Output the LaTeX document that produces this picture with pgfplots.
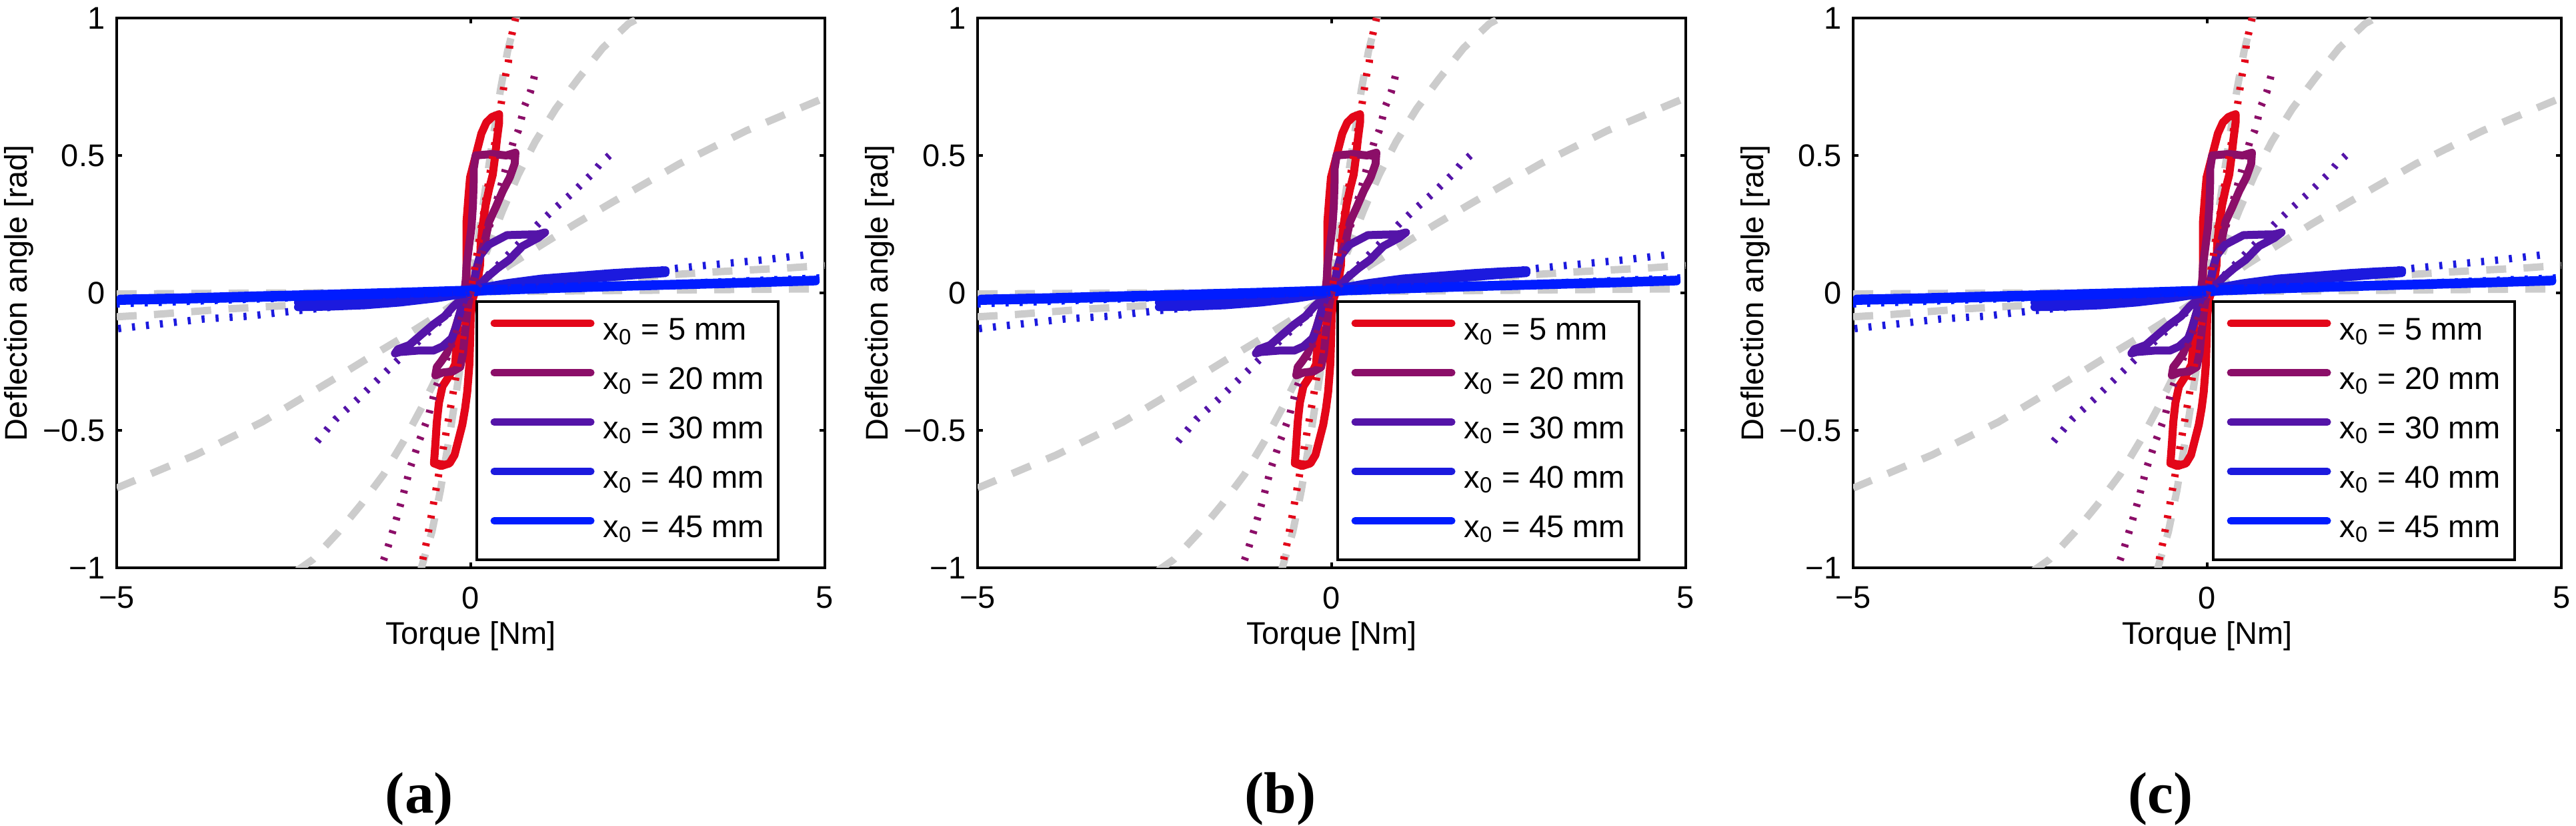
\documentclass[border=0pt]{standalone}
\usepackage{fontspec}
\setmainfont{Liberation Sans}
\newfontfamily\capfont{Liberation Serif}
\usepackage{pgfplots}
\pgfplotsset{compat=1.18}
\definecolor{cred}{RGB}{227,6,25}
\definecolor{cpur}{RGB}{139,14,104}
\definecolor{cvio}{RGB}{84,20,168}
\definecolor{cblu}{RGB}{28,26,222}
\definecolor{cbri}{RGB}{0,28,255}
\definecolor{cgray}{RGB}{204,204,204}
\pgfplotsset{
  panel/.style={
    width=212.4pt, height=164.8pt, scale only axis,
    xmin=-5, xmax=5, ymin=-1, ymax=1,
    xtick={-5,0,5}, xticklabels={−5,0,5},
    ytick={-1,-0.5,0,0.5,1}, yticklabels={−1,−0.5,0,0.5,1},
    tick align=inside, major tick length=1.6pt,
    every tick/.style={black, line width=0.8pt},
    axis line style={line width=0.8pt},
    font=\fontsize{9.4}{11}\selectfont,
    xticklabel style={yshift=-2.2pt},
    xlabel={Torque [Nm]}, ylabel={Deflection angle [rad]},
    every axis x label/.style={at={(axis description cs:0.5,-0.124)}, anchor=center},
    every axis y label/.style={at={(axis description cs:-0.138,0.5)}, rotate=90, anchor=center},
    legend style={at={(axis description cs:0.936,0.012)}, anchor=south east,
      draw=black, line width=0.8pt, inner xsep=4.2pt, inner ysep=4.4pt,
      row sep=5.4pt, column sep=2.6pt,
      nodes={inner sep=0pt, text height=7pt, text depth=2.4pt},
      font=\fontsize{9.4}{11}\selectfont},
    legend cell align=left,
    legend image code/.code={\draw[#1, line width=2.2pt] (0pt,2.6pt) -- (29pt,2.6pt);},
  },
  gr/.style={cgray, line width=2.2pt, dash pattern=on 6pt off 5.2pt, forget plot},
  dt/.style={line width=2.2pt, dash pattern=on 0.9pt off 3.3pt, forget plot},
  so/.style={line width=2.4pt, line join=round, line cap=round},
}
\newcommand{\panelplots}{%
  % model curves (gray dashed)
  \addplot[gr] coordinates {(-0.72,-1.02) (-0.55,-0.87) (-0.43,-0.72) (-0.30,-0.52) (-0.15,-0.27) (0,0) (0.15,0.28) (0.30,0.54) (0.42,0.74) (0.52,0.88) (0.66,1.02)};
  \addplot[gr] coordinates {(-2.45,-1.01) (-2.23,-0.97) (-1.87,-0.87) (-1.55,-0.77) (-1.23,-0.66) (-0.95,-0.54) (-0.70,-0.42) (-0.45,-0.29) (-0.2,-0.135) (0,0) (0.2,0.135) (0.45,0.30) (0.67,0.43) (0.91,0.55) (1.20,0.67) (1.52,0.78) (1.86,0.89) (2.23,0.98) (2.45,1.01)};
  \addplot[gr] coordinates {(-5,-0.71) (-3.89,-0.59) (-2.95,-0.47) (-1.91,-0.31) (-1.5,-0.245) (-1.0,-0.168) (-0.55,-0.095) (0,0) (0.54,0.10) (1.0,0.175) (1.47,0.25) (2.0,0.33) (2.95,0.47) (3.89,0.59) (5,0.71)};
  \addplot[gr] coordinates {(-5,-0.087) (-4.48,-0.079) (-3.93,-0.068) (-3.41,-0.058) (-2.86,-0.05) (-1.5,-0.03) (0,0) (1.5,0.036) (2.83,0.066) (3.36,0.075) (3.9,0.083) (4.44,0.09) (5,0.10)};
  \addplot[gr] coordinates {(-5,-0.004) (0,0.004) (5,0.015)};
  % measured loops (solid)
  \addplot[so, cred] coordinates {(-0.52,-0.62) (-0.50,-0.55) (-0.48,-0.47) (-0.45,-0.40) (-0.40,-0.34) (-0.30,-0.30) (-0.22,-0.26) (-0.20,-0.18) (-0.18,-0.10) (-0.10,-0.03) (-0.06,0.05) (-0.06,0.15) (-0.06,0.26) (-0.03,0.36) (-0.01,0.42) (0.05,0.48) (0.10,0.53) (0.15,0.58) (0.22,0.62) (0.30,0.64) (0.40,0.65) (0.40,0.62) (0.37,0.56) (0.34,0.49) (0.31,0.43) (0.26,0.38) (0.21,0.32) (0.17,0.25) (0.14,0.18) (0.13,0.10) (0.09,0.03) (0.03,-0.02) (0.0,-0.08) (-0.01,-0.18) (-0.02,-0.26) (-0.05,-0.36) (-0.08,-0.42) (-0.12,-0.48) (-0.18,-0.54) (-0.23,-0.59) (-0.30,-0.62) (-0.42,-0.63) (-0.52,-0.62)};
  \addlegendentry{x\textsubscript{0} = 5 mm}
  \addplot[so, cpur] coordinates {(0.07,0.50) (0.30,0.505) (0.50,0.50) (0.63,0.51) (0.62,0.47) (0.55,0.42) (0.45,0.37) (0.35,0.31) (0.26,0.26) (0.20,0.19) (0.13,0.135) (0.07,0.07) (0.01,0.02) (-0.04,-0.05) (-0.08,-0.14) (-0.11,-0.22) (-0.15,-0.27) (-0.25,-0.285) (-0.40,-0.29) (-0.50,-0.30) (-0.48,-0.27) (-0.42,-0.25) (-0.34,-0.22) (-0.28,-0.18) (-0.22,-0.13) (-0.15,-0.07) (-0.10,-0.02) (-0.07,0.05) (-0.06,0.10) (-0.02,0.18) (0.01,0.24) (0.03,0.32) (0.04,0.40) (0.04,0.45) (0.07,0.50)};
  \addlegendentry{x\textsubscript{0} = 20 mm}
  \addplot[so, cvio] coordinates {(-1.07,-0.22) (-1.03,-0.205) (-0.87,-0.19) (-0.69,-0.15) (-0.53,-0.115) (-0.37,-0.085) (-0.25,-0.05) (-0.12,-0.02) (0.04,0.015) (0.07,0.08) (0.13,0.135) (0.25,0.175) (0.51,0.21) (0.75,0.212) (0.95,0.213) (1.05,0.22) (0.95,0.20) (0.73,0.17) (0.54,0.12) (0.38,0.09) (0.22,0.055) (0.10,0.02) (-0.09,-0.02) (-0.15,-0.07) (-0.21,-0.125) (-0.27,-0.165) (-0.40,-0.195) (-0.53,-0.21) (-0.75,-0.21) (-1.0,-0.215) (-1.07,-0.22)};
  \addlegendentry{x\textsubscript{0} = 30 mm}
  \addplot[so, cblu] coordinates {(-2.44,-0.035) (-2.0,-0.032) (-1.5,-0.027) (-1.0,-0.015) (-0.5,-0.002) (0,0.012) (0.5,0.035) (1.0,0.052) (1.5,0.062) (2.0,0.072) (2.4,0.078) (2.75,0.082) (2.75,0.072) (2.4,0.066) (2.0,0.058) (1.5,0.048) (1.0,0.036) (0.5,0.018) (0,0.0) (-0.5,-0.02) (-1.0,-0.035) (-1.5,-0.045) (-2.0,-0.05) (-2.44,-0.052)};
  \addlegendentry{x\textsubscript{0} = 40 mm}
  \addplot[so, cbri] coordinates {(-4.95,-0.021) (-4,-0.016) (-3,-0.009) (-2,-0.003) (-1,0.004) (0,0.012) (1,0.02) (2,0.027) (3,0.034) (4,0.041) (4.87,0.048) (4.87,0.042) (4,0.035) (3,0.028) (2,0.021) (1,0.013) (0,0.004) (-1,-0.005) (-2,-0.012) (-3,-0.018) (-4,-0.024) (-4.95,-0.029)};
  \addlegendentry{x\textsubscript{0} = 45 mm}
  % fitted lines (dotted)
  \addplot[dt, cred] coordinates {(-0.72,-1.02) (-0.62,-0.90) (-0.55,-0.80) (-0.46,-0.67) (0,0) (0.43,0.69) (0.46,0.74) (0.49,0.79) (0.53,0.84) (0.55,0.90) (0.58,0.94) (0.65,1.02)};
  \addplot[dt, cpur] coordinates {(-1.30,-1.02) (-1.20,-0.95) (-1.07,-0.84) (-0.97,-0.75) (-0.86,-0.64) (-0.73,-0.54) (-0.60,-0.45) (-0.50,-0.35) (0,0) (0.60,0.55) (0.67,0.59) (0.76,0.68) (0.84,0.73) (0.90,0.79)};
  \addplot[dt, cvio] coordinates {(-2.17,-0.54) (-1.91,-0.46) (-1.61,-0.39) (-1.33,-0.32) (-1.03,-0.245) (0,0) (0.95,0.25) (1.20,0.31) (1.42,0.36) (1.70,0.43) (1.83,0.47) (2.04,0.52)};
  \addplot[dt, cblu] coordinates {(-4.98,-0.13) (-4.35,-0.112) (-3.77,-0.095) (-3.15,-0.085) (-2.57,-0.068) (0,0) (2.92,0.09) (3.52,0.105) (4.13,0.12) (4.72,0.138)};
  \addplot[dt, cbri] coordinates {(-5,-0.04) (0,0.005) (5,0.055)};
}
\begin{document}
\begin{tikzpicture}
\path[use as bounding box] (0,0) rectangle (772.6pt,247.6pt);
\begin{axis}[panel, at={(35pt,77.4pt)}, anchor=south west]
\panelplots
\end{axis}
\begin{axis}[panel, at={(293.2pt,77.4pt)}, anchor=south west]
\panelplots
\end{axis}
\begin{axis}[panel, at={(555.8pt,77.4pt)}, anchor=south west]
\panelplots
\end{axis}
\node[anchor=base, font=\capfont\bfseries\fontsize{17.5}{20}\selectfont] at (125.8pt,3.8pt) {(a)};
\node[anchor=base, font=\capfont\bfseries\fontsize{17.5}{20}\selectfont] at (384pt,3.8pt) {(b)};
\node[anchor=base, font=\capfont\bfseries\fontsize{17.5}{20}\selectfont] at (648pt,3.8pt) {(c)};
\end{tikzpicture}
\end{document}
